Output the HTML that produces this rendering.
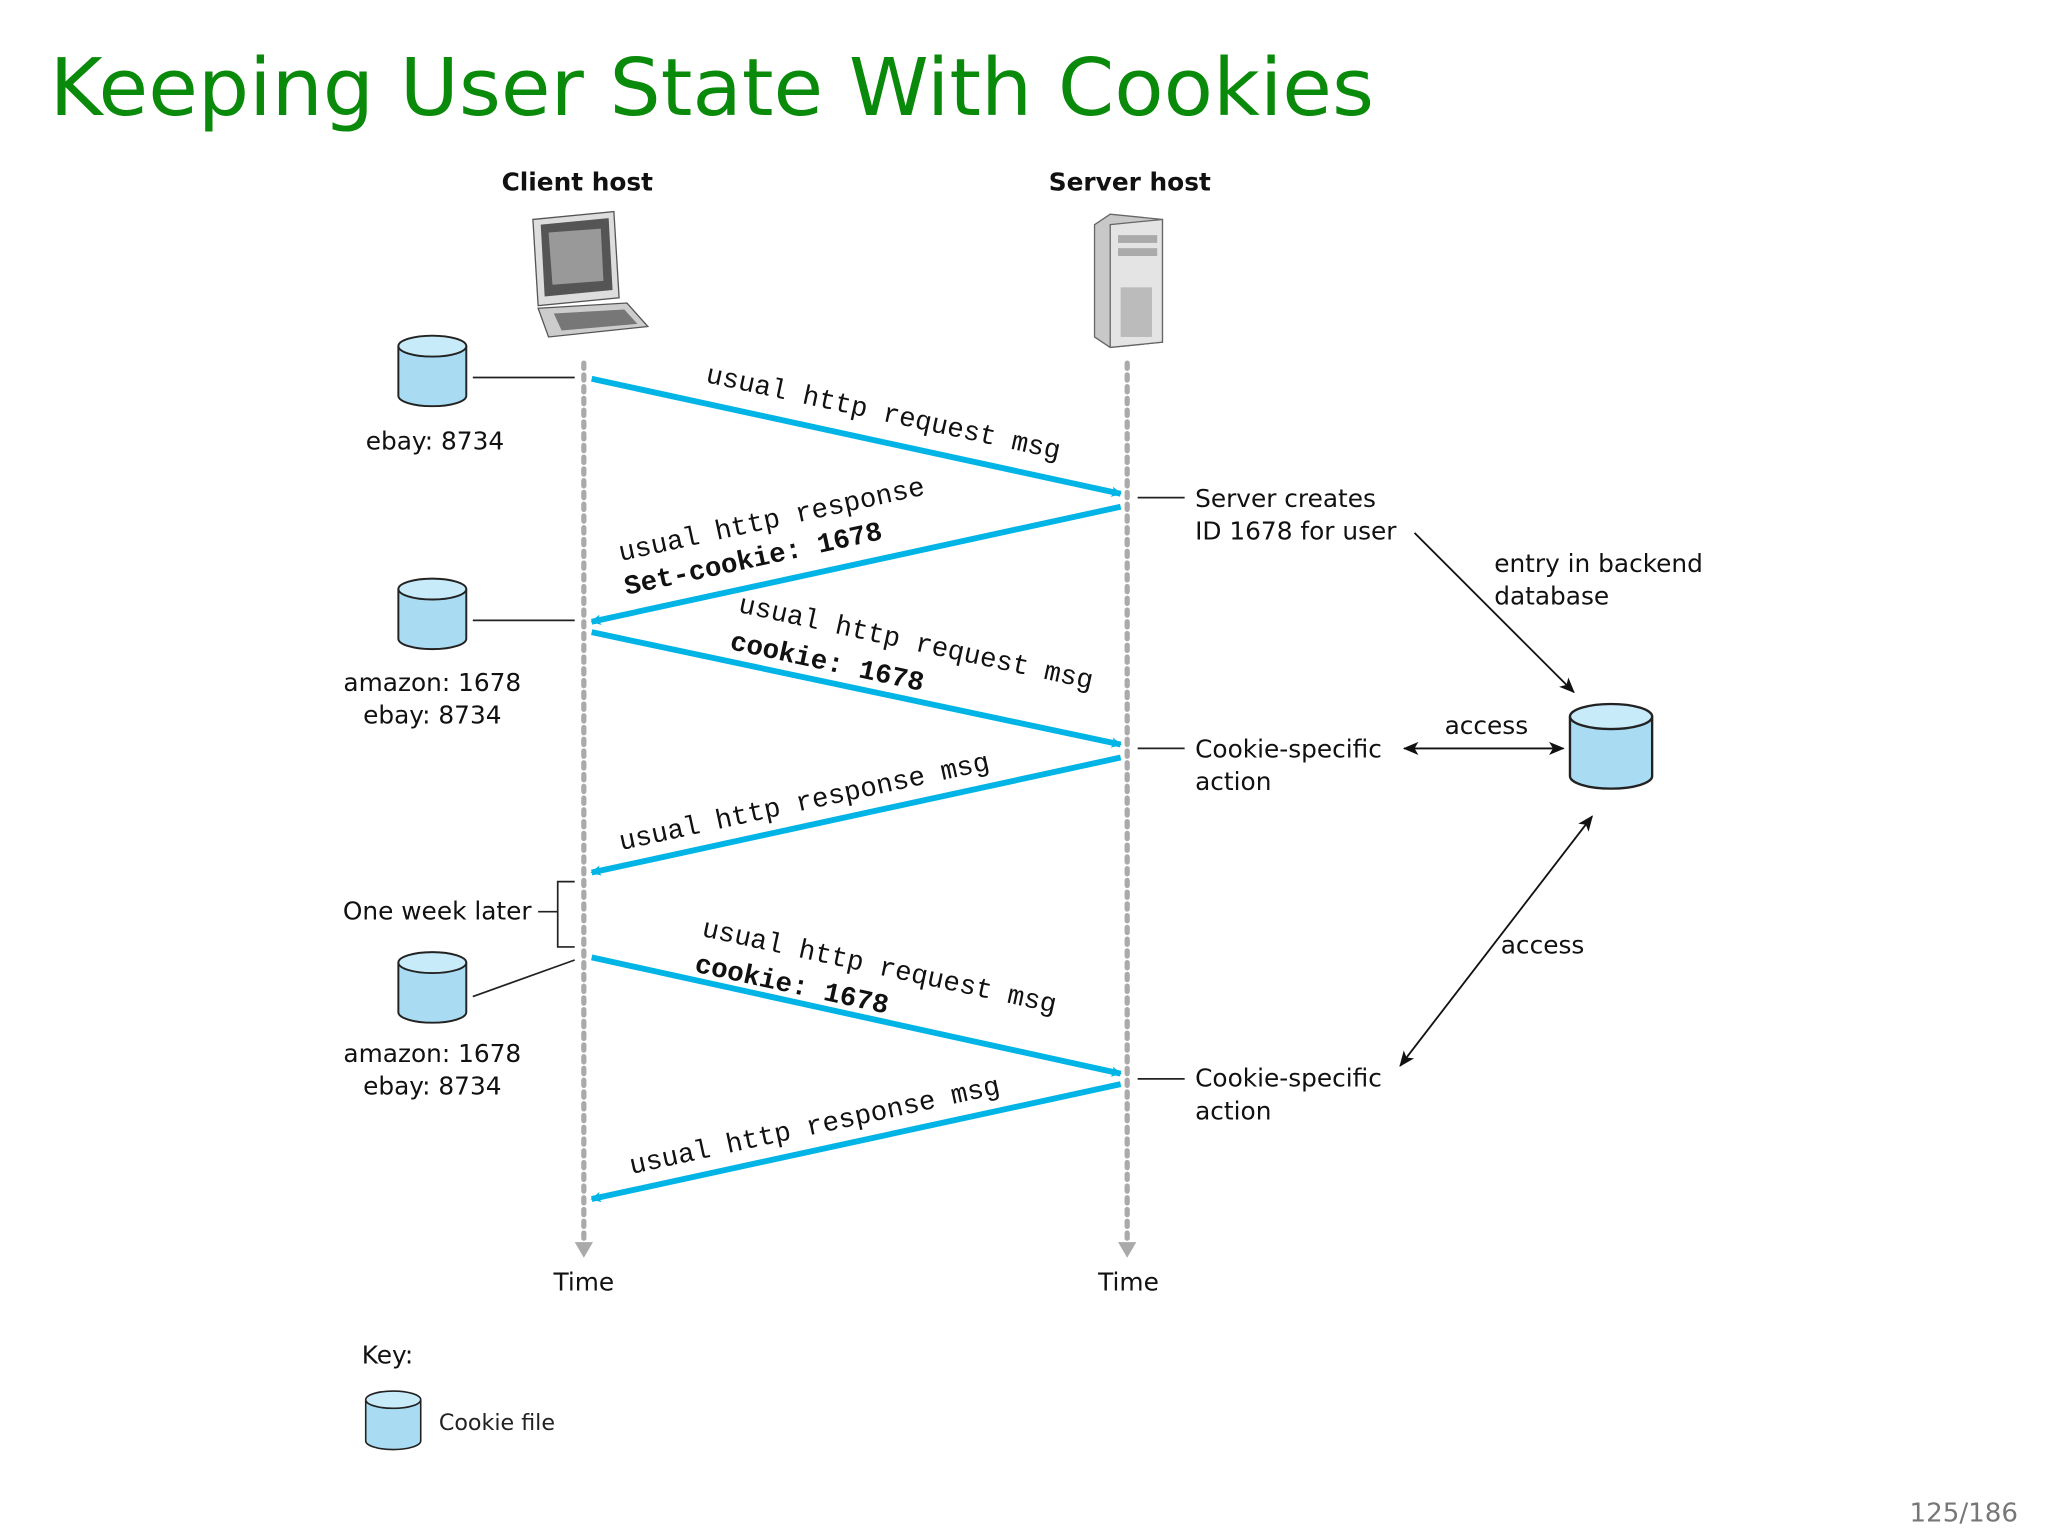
<!DOCTYPE html>
<html><head><meta charset="utf-8"><style>
html,body{margin:0;padding:0;background:#fff;}
svg{display:block;}
.s{font-family:"DejaVu Sans","Liberation Sans",sans-serif;font-size:19px;fill:#111;}
.m{font-family:"Liberation Mono",monospace;font-size:21px;fill:#111;}
.b{font-weight:bold;}
</style></head><body>
<svg width="2048" height="1536" viewBox="0 0 1568 1176" preserveAspectRatio="none" xmlns="http://www.w3.org/2000/svg">
<defs>
<marker id="ba" markerWidth="8" markerHeight="8" refX="7" refY="4" orient="auto" markerUnits="userSpaceOnUse" viewBox="0 0 8 8"><path d="M0,0 L8,4 L0,8 L2,4z" fill="#00b4e6"/></marker>
<marker id="ka" markerWidth="12" markerHeight="12" refX="11" refY="6" orient="auto-start-reverse" markerUnits="userSpaceOnUse" viewBox="0 0 12 12"><path d="M0,1 L12,6 L0,11 L3,6z" fill="#111"/></marker>
<g id="cyl"><path d="M0,8 L0,46 A26,8 0 0 0 52,46 L52,8" fill="#a9dcf3" stroke="#222" stroke-width="1.5"/><ellipse cx="26" cy="8" rx="26" ry="8" fill="#c8ebfa" stroke="#222" stroke-width="1.5"/></g>
</defs>
<rect width="1568" height="1176" fill="#fff"/>
<text x="38" y="88" font-family="DejaVu Sans,Liberation Sans,sans-serif" font-size="61" fill="#0a8a0a" textLength="1014" lengthAdjust="spacingAndGlyphs">Keeping User State With Cookies</text>
<text x="1545" y="1165" text-anchor="end" font-family="DejaVu Sans,sans-serif" font-size="20" fill="#777">125/186</text>

<text class="s b" x="442" y="146" text-anchor="middle">Client host</text>
<text class="s b" x="865" y="146" text-anchor="middle">Server host</text>

<g>
<path d="M408,168 L470,162 L474,228 L412,234z" fill="#ddd" stroke="#555"/>
<path d="M414,172 L466,167 L469,222 L417,227z" fill="#555"/>
<path d="M420,178 L460,175 L462,215 L423,218z" fill="#999"/>
<path d="M412,236 L480,232 L496,250 L420,258z" fill="#ccc" stroke="#555"/>
<path d="M424,240 L478,237 L488,248 L430,253z" fill="#777"/>
</g>
<g>
<path d="M838,172 L850,164 L890,168 L890,262 L850,266 L838,258z" fill="#c8c8c8" stroke="#666"/>
<path d="M850,172 L890,168 L890,262 L850,266z" fill="#e4e4e4" stroke="#666"/>
<rect x="856" y="180" width="30" height="6" fill="#aaa"/>
<rect x="856" y="190" width="30" height="6" fill="#aaa"/>
<rect x="858" y="220" width="24" height="38" fill="#bbb"/>
</g>

<line x1="447" y1="278" x2="447" y2="948" stroke="#aaa" stroke-width="4" stroke-dasharray="4,5" stroke-linecap="round"/>
<line x1="863" y1="278" x2="863" y2="948" stroke="#aaa" stroke-width="4" stroke-dasharray="4,5" stroke-linecap="round"/>
<path d="M440,951 L454,951 L447,963z" fill="#aaa"/>
<path d="M856,951 L870,951 L863,963z" fill="#aaa"/>
<text class="s" x="447" y="988" text-anchor="middle">Time</text>
<text class="s" x="864" y="988" text-anchor="middle">Time</text>

<g stroke="#00b4e6" stroke-width="4.5" marker-end="url(#ba)">
<line x1="453" y1="290" x2="858" y2="378"/>
<line x1="858" y1="388" x2="453" y2="476"/>
<line x1="453" y1="484" x2="858" y2="570"/>
<line x1="858" y1="580" x2="453" y2="668"/>
<line x1="453" y1="733" x2="858" y2="822"/>
<line x1="858" y1="830" x2="453" y2="918"/>
</g>

<text class="m" transform="translate(675,322) rotate(12.3)" text-anchor="middle">usual http request msg</text>
<text class="m" transform="translate(592,404) rotate(-12.3)" text-anchor="middle">usual http response</text>
<text class="m b" transform="translate(578,434) rotate(-12.3)" text-anchor="middle">Set-cookie: 1678</text>
<text class="m" transform="translate(700,498) rotate(12.3)" text-anchor="middle">usual http request msg</text>
<text class="m b" transform="translate(632,513) rotate(12.3)" text-anchor="middle">cookie: 1678</text>
<text class="m" transform="translate(617,620) rotate(-12.3)" text-anchor="middle">usual http response msg</text>
<text class="m" transform="translate(672,746) rotate(12.3)" text-anchor="middle">usual http request msg</text>
<text class="m b" transform="translate(605,760) rotate(12.3)" text-anchor="middle">cookie: 1678</text>
<text class="m" transform="translate(625,868) rotate(-12.3)" text-anchor="middle">usual http response msg</text>

<use href="#cyl" x="305" y="257"/>
<text class="s" x="333" y="344" text-anchor="middle">ebay: 8734</text>
<use href="#cyl" x="305" y="443"/>
<text class="s" x="331" y="529" text-anchor="middle">amazon: 1678</text>
<text class="s" x="331" y="554" text-anchor="middle">ebay: 8734</text>
<use href="#cyl" x="305" y="729"/>
<text class="s" x="331" y="813" text-anchor="middle">amazon: 1678</text>
<text class="s" x="331" y="838" text-anchor="middle">ebay: 8734</text>
<g stroke="#222" stroke-width="1.3" fill="none">
<line x1="362" y1="289" x2="440" y2="289"/>
<line x1="362" y1="475" x2="440" y2="475"/>
<line x1="362" y1="763" x2="440" y2="735"/>
<path d="M440,675 L427,675 L427,725 L440,725 M412,698 L427,698"/>
<line x1="871" y1="381" x2="907" y2="381"/>
<line x1="871" y1="573" x2="907" y2="573"/>
<line x1="871" y1="826" x2="907" y2="826"/>
</g>
<text class="s" x="407" y="704" text-anchor="end">One week later</text>

<text class="s" x="915" y="388">Server creates</text>
<text class="s" x="915" y="413">ID 1678 for user</text>
<text class="s" x="915" y="580">Cookie-specific</text>
<text class="s" x="915" y="605">action</text>
<text class="s" x="915" y="832">Cookie-specific</text>
<text class="s" x="915" y="857">action</text>

<text class="s" x="1144" y="438">entry in backend</text>
<text class="s" x="1144" y="463">database</text>
<text class="s" x="1138" y="562" text-anchor="middle">access</text>
<text class="s" x="1181" y="730" text-anchor="middle">access</text>

<g stroke="#111" stroke-width="1.4">
<line x1="1083" y1="408" x2="1205" y2="530" marker-end="url(#ka)"/>
<line x1="1075" y1="573" x2="1197" y2="573" marker-start="url(#ka)" marker-end="url(#ka)"/>
<line x1="1219" y1="625" x2="1072" y2="816" marker-start="url(#ka)" marker-end="url(#ka)"/>
</g>
<g transform="translate(1202,539) scale(1.21,1.2)"><use href="#cyl"/></g>

<text class="s" x="277" y="1044">Key:</text>
<g transform="translate(280,1065) scale(0.81,0.83)"><use href="#cyl"/></g>
<text x="336" y="1095" font-family="DejaVu Sans,sans-serif" font-size="17" fill="#222">Cookie file</text>
</svg>
</body></html>
